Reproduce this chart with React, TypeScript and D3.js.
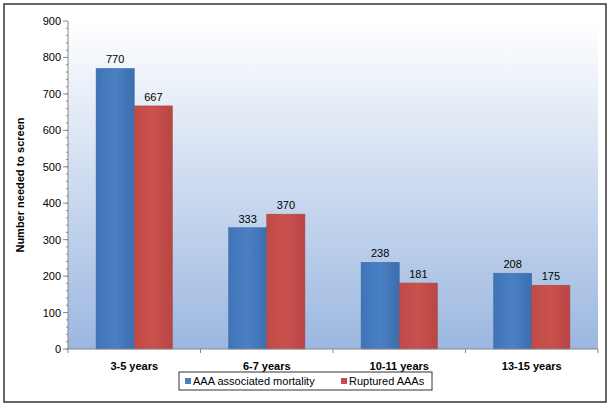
import React from "react";
import * as d3 from "d3";

const categories = ["3-5 years", "6-7 years", "10-11 years", "13-15 years"];
const mortality = [770, 333, 238, 208];
const ruptured = [667, 370, 181, 175];
const yTicks = [0, 100, 200, 300, 400, 500, 600, 700, 800, 900];

export default function App() {
  const left = 68, right = 598, top = 21, bottom = 349;
  const x = d3.scaleBand().domain(categories).range([left, right]).paddingInner(0.424).paddingOuter(0.212);
  const y = d3.scaleLinear().domain([0, 900]).range([bottom, top]);
  const bw = x.bandwidth() / 2;
  const minor = d3.range(0, 900, 20);
  const font = "Liberation Sans, Arial, sans-serif";
  return (
    <svg width={614} height={408} style={{ position: "absolute", left: 0, top: 0 }} fontFamily={font}>
      <defs>
        <linearGradient id="bg" x1="0" y1="0" x2="0" y2="1">
          <stop offset="0%" stopColor="#ffffff" />
          <stop offset="100%" stopColor="#9bb7e0" />
        </linearGradient>
        <linearGradient id="gb" x1="0" y1="0" x2="1" y2="0">
          <stop offset="0%" stopColor="#3f74b8" />
          <stop offset="50%" stopColor="#4a80c4" />
          <stop offset="100%" stopColor="#3c6eae" />
        </linearGradient>
        <linearGradient id="gr" x1="0" y1="0" x2="1" y2="0">
          <stop offset="0%" stopColor="#bf4b49" />
          <stop offset="50%" stopColor="#c9514e" />
          <stop offset="100%" stopColor="#b84643" />
        </linearGradient>
      </defs>
      <rect x={4} y={4} width={602} height={398} fill="#fff" stroke="#333" strokeWidth={1.5} />
      <rect x={left} y={top} width={right - left} height={bottom - top} fill="url(#bg)" />
      {categories.map((c, i) => (
        <g key={c}>
          <rect x={x(c)!} y={y(mortality[i])} width={bw} height={bottom - y(mortality[i])} fill="url(#gb)" stroke="#3a6aa6" strokeWidth={0.5} />
          <rect x={x(c)! + bw} y={y(ruptured[i])} width={bw} height={bottom - y(ruptured[i])} fill="url(#gr)" stroke="#a94240" strokeWidth={0.5} />
          <text x={x(c)! + bw / 2} y={y(mortality[i]) - 5} textAnchor="middle" fontSize={11}>{mortality[i]}</text>
          <text x={x(c)! + bw * 1.5} y={y(ruptured[i]) - 5} textAnchor="middle" fontSize={11}>{ruptured[i]}</text>
          <text x={x(c)! + bw} y={370} textAnchor="middle" fontSize={11} fontWeight="bold">{c}</text>
        </g>
      ))}
      <line x1={left} x2={left} y1={top} y2={bottom} stroke="#888" />
      <line x1={left} x2={right} y1={bottom} y2={bottom} stroke="#888" />
      {minor.map((t) => (
        <line key={"m" + t} x1={left - 2} x2={left} y1={y(t)} y2={y(t)} stroke="#888" />
      ))}
      {yTicks.map((t) => (
        <g key={t}>
          <line x1={left - 5} x2={left} y1={y(t)} y2={y(t)} stroke="#888" />
          <text x={left - 7} y={y(t) + 4} textAnchor="end" fontSize={11}>{t}</text>
        </g>
      ))}
      {d3.range(5).map((i) => (
        <line key={"xt" + i} x1={left + i * x.step()} x2={left + i * x.step()} y1={bottom} y2={bottom + 4} stroke="#888" />
      ))}
      <text transform={`translate(24,${(top + bottom) / 2}) rotate(-90)`} textAnchor="middle" fontSize={11} fontWeight="bold">
        Number needed to screen
      </text>
      <rect x={179} y={372} width={253} height={18} fill="#fff" stroke="#333" />
      <rect x={185} y={378} width={6} height={6} fill="#4a7ebf" />
      <text x={193} y={385} fontSize={11}>AAA associated mortality</text>
      <rect x={341} y={378} width={6} height={6} fill="#c0504d" />
      <text x={349} y={385} fontSize={11}>Ruptured AAAs</text>
    </svg>
  );
}
